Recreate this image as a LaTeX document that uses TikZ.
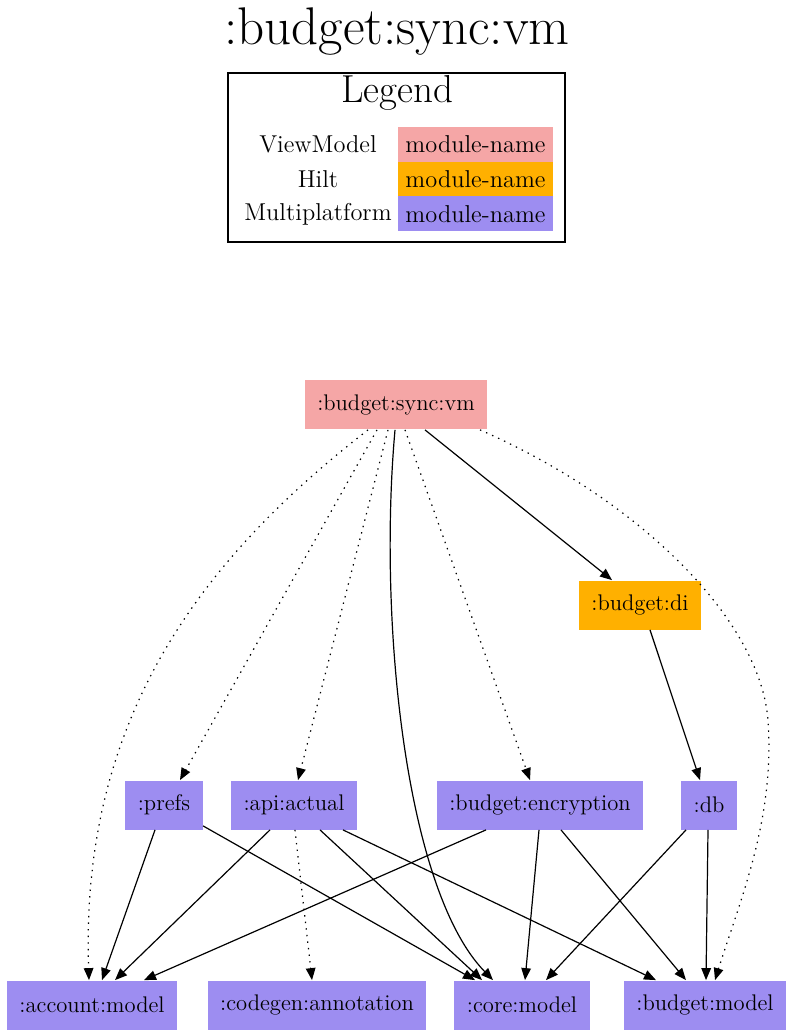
\documentclass[tikz,border=0pt]{standalone}
\usepackage{fontspec}
\usetikzlibrary{arrows.meta}
\definecolor{vmpink}{RGB}{245,166,166}
\definecolor{hiltorange}{RGB}{255,176,0}
\definecolor{mppurple}{RGB}{157,141,241}
\begin{document}
\begin{tikzpicture}[x=0.5pt,y=-0.5pt,
  module/.style={minimum height=24.5pt,inner xsep=6.25pt,inner ysep=0pt,font=\fontsize{11.3}{13}\selectfont},
  cell/.style={minimum width=77.5pt,minimum height=17.5pt,inner sep=0pt,font=\fontsize{12.2}{14}\selectfont},
  kind/.style={font=\fontsize{12.2}{14}\selectfont},
  dep/.style={-{Triangle[length=6pt,width=4.8pt]},line width=0.6pt},
  impl/.style={dep,dash pattern=on 0.7pt off 2.6pt}]
\useasboundingbox (0,0) rectangle (793,1036);
% title and legend
\node[font=\fontsize{26.5}{30}\selectfont] (title) at (397,32) {:budget:sync:vm};
\node[draw,line width=0.6pt,minimum width=168.5pt,minimum height=84.5pt] (legend) at (396.5,157.5) {};
\node[font=\fontsize{19.5}{23}\selectfont] (legendtitle) at (397,93) {Legend};
\node[kind] (kvm) at (318,144.5) {ViewModel};
\node[kind] (khilt) at (318,179.5) {Hilt};
\node[kind] (kmp) at (318,214) {Multiplatform};
\node[cell,fill=vmpink] (cvm) at (475.5,144.5) {module-name};
\node[cell,fill=hiltorange] (chilt) at (475.5,179.5) {module-name};
\node[cell,fill=mppurple] (cmp) at (475.5,214) {module-name};
% modules
\node[module,fill=vmpink] (svm) at (396,405) {:budget:sync:vm};
\node[module,fill=hiltorange] (di) at (640,605) {:budget:di};
\node[module,fill=mppurple] (prefs) at (164,805) {:prefs};
\node[module,fill=mppurple] (api) at (294,805) {:api:actual};
\node[module,fill=mppurple] (enc) at (540,805) {:budget:encryption};
\node[module,fill=mppurple] (db) at (709,805) {:db};
\node[module,fill=mppurple] (am) at (92,1005) {:account:model};
\node[module,fill=mppurple] (cg) at (317,1005) {:codegen:annotation};
\node[module,fill=mppurple] (cm) at (522,1005) {:core:model};
\node[module,fill=mppurple] (bm) at (705,1005) {:budget:model};
% dependencies of :budget:sync:vm
\draw[impl] ([xshift=-14pt]svm.south) .. controls (200,560) and (80,720) .. ([xshift=-1.5pt]am.north);
\draw[impl] ([xshift=-9.5pt]svm.south) -- ([xshift=8pt]prefs.north);
\draw[impl] ([xshift=-4pt]svm.south) -- ([xshift=2pt]api.north);
\draw[dep] ([xshift=-0.5pt]svm.south) .. controls (378,620) and (405,890) .. ([xshift=-14.5pt]cm.north);
\draw[impl] ([xshift=4.5pt]svm.south) -- ([xshift=-5pt]enc.north);
\draw[dep] ([xshift=14.5pt]svm.south) -- ([xshift=-14pt]di.north);
\draw[impl] ([xshift=42pt]svm.south) .. controls (640,500) and (760,620) .. (768,720)
  .. controls (775,820) and (740,900) .. ([xshift=5pt]bm.north);
% the rest
\draw[dep] ([xshift=5pt]di.south) -- ([xshift=-4.5pt]db.north);
\draw[dep] ([xshift=-4.5pt]prefs.south) -- ([xshift=5pt]am.north);
\draw[dep] ([yshift=2pt]prefs.south east) -- ([xshift=-23.5pt]cm.north);
\draw[dep] ([xshift=-12pt]api.south) -- ([xshift=11.5pt]am.north);
\draw[impl] ([xshift=0.5pt]api.south) -- ([xshift=-2.5pt]cg.north);
\draw[dep] ([xshift=13pt]api.south) -- ([xshift=-20pt]cm.north);
\draw[dep] ([xshift=24.5pt]api.south) -- ([xshift=-24.5pt]bm.north);
\draw[dep] ([xshift=-27pt]enc.south) -- ([xshift=26pt]am.north);
\draw[dep] ([xshift=-0.5pt]enc.south) -- ([xshift=1.5pt]cm.north);
\draw[dep] ([xshift=10.5pt]enc.south) -- ([xshift=-9.5pt]bm.north);
\draw[dep] ([xshift=-11.5pt]db.south) -- ([xshift=12pt]cm.north);
\draw[dep] ([xshift=-0.5pt]db.south) -- ([xshift=0.5pt]bm.north);
\end{tikzpicture}
\end{document}
